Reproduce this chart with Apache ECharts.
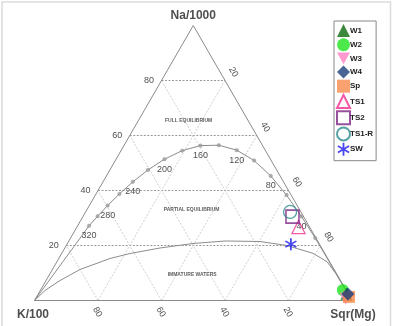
<!DOCTYPE html>
<html><head><meta charset="utf-8">
<script src="https://cdn.jsdelivr.net/npm/echarts/dist/echarts.min.js"></script>
<style>html,body{margin:0;padding:0;background:#fff}#c{width:393px;height:326px}</style>
</head><body><div id="c"></div>
<script>
// ---------- data (ternary %: Na/1000, K/100, Sqr(Mg)) ----------
const sampleNames = ['W1','W2','W3','W4','Sp','TS1','TS2','TS1-R','SW'];
const sampleNa = [2.5, 3.8, 0.6, 2.4, 1.3, 26.7, 30.5, 32.2, 20.5];
const sampleK  = [0.5, 1.0, 1.7, 0.1, 0.3, 3.5, 3.5, 3.4, 9.0];
const sampleMg = [97.0, 95.2, 97.7, 97.5, 98.4, 69.8, 66.0, 64.4, 70.5];

// full equilibrium line (temperature in °C)
const eqTemps = [20,40,60,80,100,120,140,160,180,200,220,240,260,280,300,320];
const eqNa = [22.72,30.56,38.32,45.30,50.90,54.68,56.47,56.32,54.49,51.39,47.47,43.15,38.76,34.56,30.66,27.15];
const eqK  = [0.23,0.63,1.45,2.95,5.39,8.96,13.72,19.57,26.24,33.35,40.54,47.45,53.87,59.66,64.78,69.23];
const eqMg = [77.04,68.81,60.23,51.75,43.71,36.37,29.81,24.11,19.27,15.25,12.00,9.40,7.36,5.78,4.56,3.61];
const eqLabelTemps = [40,80,120,160,200,240,280,320];

// immature waters curve
const imNa = [0, 3.64, 7.27, 11.27, 15.27, 17.09, 19.09, 20.73, 21.64, 21.45, 20.0, 17.16, 14.11, 9.8, 5.0, 0];
const imK  = [100, 94.87, 88.33, 80.03, 68.59, 61.38, 50.93, 39.71, 29.18, 18.26, 10.47, 3.70, 0.81, 0.2, 0.1, 0];
const imMg = [0, 1.49, 4.40, 8.70, 16.14, 21.53, 29.98, 39.56, 49.18, 60.29, 69.53, 79.14, 85.08, 90.0, 94.9, 100];

// axes / ticks
const gridLevels = [20,40,60,80];
const naTickValues = [20,40,60,80];   // left edge
const mgTickValues = [20,40,60,80];   // right edge
const kTickValues  = [80,60,40,20];   // bottom edge
const cornerTitles = ['Na/1000','K/100','Sqr(Mg)'];

// region labels
const regionNames = ['FULL EQUILIBRIUM','PARTIAL EQUILIBRIUM','IMMATURE WATERS'];
const regionNa = [65.3, 33.2, 9.5];
const regionK  = [18.8, 33.9, 45.6];
const regionMg = [15.9, 32.9, 44.9];

// ---------- helpers ----------
function tern(na,k,mg){ const s = na+k+mg; return [(mg + na/2)/s*100, na/s*100]; }
const FONT = 'Arial, "Liberation Sans", sans-serif';

const series = [];
function seg(a, b, style){
  series.push({type:'line', silent:true, showSymbol:false, symbol:'none', z:1,
    data:[tern(a[0],a[1],a[2]), tern(b[0],b[1],b[2])], lineStyle:style, animation:false});
}
const hStyle = {color:'#9a9a9a', width:1, type:[2,1.5]};
const dStyle = {color:'#cfcfcf', width:1, type:[2,1.5]};
gridLevels.forEach(v=>{
  seg([v,100-v,0],[v,0,100-v],hStyle);       // Na = v
  seg([0,100-v,v],[100-v,0,v],dStyle);       // Mg = v
  seg([0,v,100-v],[100-v,v,0],dStyle);       // K = v
});
// triangle frame
series.push({type:'line', silent:true, symbol:'none', z:2,
  data:[tern(0,100,0),tern(0,0,100),tern(100,0,0),tern(0,100,0)],
  lineStyle:{color:'#8a8a8a', width:1}});

// full equilibrium curve
const eqLine = [tern(0,0,100)];
for (let i=0;i<eqTemps.length;i++) eqLine.push(tern(eqNa[i],eqK[i],eqMg[i]));
eqLine.push(tern(0,100,0));
series.push({type:'line', silent:true, symbol:'none', z:3, data:eqLine,
  lineStyle:{color:'#8c8c8c', width:1}});
series.push({type:'scatter', silent:true, z:4, symbol:'circle', symbolSize:3.5,
  itemStyle:{color:'#a0a0a0', borderColor:'#888', borderWidth:0.5},
  data: eqTemps.map((t,i)=>tern(eqNa[i],eqK[i],eqMg[i]))});
series.push({type:'scatter', silent:true, z:5, symbolSize:0,
  data: eqLabelTemps.map(t=>{ const i = eqTemps.indexOf(t); return {value:tern(eqNa[i],eqK[i],eqMg[i]), name:String(t)}; }),
  label:{show:true, formatter:'{b}', position:[0,10], align:'center', verticalAlign:'middle',
    fontSize:9, fontFamily:FONT, color:'#222'}});

// immature waters curve
series.push({type:'line', silent:true, symbol:'none', z:3, smooth:false,
  data: imNa.map((n,i)=>tern(n,imK[i],imMg[i])),
  lineStyle:{color:'#8c8c8c', width:1}});

// tick labels
series.push({type:'scatter', silent:true, symbolSize:0, z:5,
  data: naTickValues.map(v=>({value:tern(v,100-v,0), name:String(v)})),
  label:{show:true, formatter:'{b}', position:[-12.5,0.5], align:'center', verticalAlign:'middle',
    fontSize:9, fontFamily:FONT, color:'#222'}});
series.push({type:'scatter', silent:true, symbolSize:0, z:5,
  data: mgTickValues.map(v=>({value:tern(100-v,0,v), name:String(v)})),
  label:{show:true, formatter:'{b}', position:[8.5,-8.5], align:'center', verticalAlign:'middle', rotate:-60,
    fontSize:9, fontFamily:FONT, color:'#222'}});
series.push({type:'scatter', silent:true, symbolSize:0, z:5,
  data: kTickValues.map(v=>({value:tern(0,v,100-v), name:String(v)})),
  label:{show:true, formatter:'{b}', position:[-0.5,11.5], align:'center', verticalAlign:'middle', rotate:-60,
    fontSize:9, fontFamily:FONT, color:'#222'}});

// region labels
series.push({type:'scatter', silent:true, symbolSize:0, z:5,
  data: regionNames.map((n,i)=>({value:tern(regionNa[i],regionK[i],regionMg[i]), name:n})),
  label:{show:true, formatter:'{b}', position:[0,0], align:'center', verticalAlign:'middle',
    fontSize:5, fontWeight:'bold', fontFamily:FONT, color:'#333'}});

// corner titles
series.push({type:'scatter', silent:true, symbolSize:0, z:5,
  data: [{value:tern(100,0,0), name:cornerTitles[0], label:{position:[0,-10]}},
         {value:tern(0,100,0), name:cornerTitles[1], label:{position:[-1.5,14.5]}},
         {value:tern(0,0,100), name:cornerTitles[2], label:{position:[1,14.5]}}],
  label:{show:true, formatter:'{b}', align:'center', verticalAlign:'middle',
    fontSize:12, fontWeight:'bold', fontFamily:FONT, color:'#222'}});

// samples
const ASTER = 'path://M-1.4,-10L1.4,-10L1.4,10L-1.4,10Z' +
  'M-9.36,-3.79L-7.96,-6.21L9.36,3.79L7.96,6.21Z' +
  'M-7.96,6.21L-9.36,3.79L7.96,-6.21L9.36,-3.79Z';
const INV_TRI = 'path://M0,0L10,0L5,9Z';
const sampleStyles = {
  'W1':   {symbol:'triangle', symbolSize:12, itemStyle:{color:'#0d6a0d'}, z:10},
  'W2':   {symbol:'circle', symbolSize:12, itemStyle:{color:'#1fe21f'}, z:9},
  'W3':   {symbol:INV_TRI, symbolSize:12, itemStyle:{color:'#ff80c4'}, z:10},
  'W4':   {symbol:'diamond', symbolSize:13, itemStyle:{color:'#1b3f78'}, z:13},
  'Sp':   {symbol:'rect', symbolSize:12, itemStyle:{color:'#f8894b'}, z:11},
  'TS1':  {symbol:'triangle', symbolSize:13, itemStyle:{color:'rgba(255,255,255,0)', borderColor:'#f0308f', borderWidth:1.3}, z:10},
  'TS2':  {symbol:'rect', symbolSize:13, itemStyle:{color:'rgba(255,255,255,0)', borderColor:'#7c2484', borderWidth:1.6}, z:10},
  'TS1-R':{symbol:'circle', symbolSize:13, itemStyle:{color:'rgba(255,255,255,0)', borderColor:'#2a8a8c', borderWidth:1.3}, z:10},
  'SW':   {symbol:ASTER, symbolSize:12, itemStyle:{color:'#1a1aee'}, z:10}
};
sampleNames.forEach((n,i)=>{
  const st = sampleStyles[n];
  series.push(Object.assign({type:'scatter', name:n, silent:true,
    data:[tern(sampleNa[i],sampleK[i],sampleMg[i])]}, st));
});

const chart = echarts.init(document.getElementById('c'), null, {renderer:'canvas'});
chart.setOption({
  animation:false,
  backgroundColor:'#fff',
  grid:{left:34.5, right:41, top:25.5, bottom:25.5},
  xAxis:{type:'value', min:0, max:100, show:false},
  yAxis:{type:'value', min:0, max:100, show:false},
  legend:{data:sampleNames, orient:'vertical', left:334, top:21, itemWidth:13, itemHeight:13, itemGap:1.25,
    padding:[3,3,5,2], borderColor:'#888', borderWidth:1, backgroundColor:'#fff',
    textStyle:{fontSize:8, fontWeight:'bold', fontFamily:FONT, color:'#222', padding:[0,0,0,-5]}},
  graphic:[{type:'rect', silent:true, z:-10, shape:{x:2,y:2,width:388.5,height:340},
    style:{fill:'none', stroke:'#dcdcdc', lineWidth:1.5}}],
  series: series
});
</script></body></html>
